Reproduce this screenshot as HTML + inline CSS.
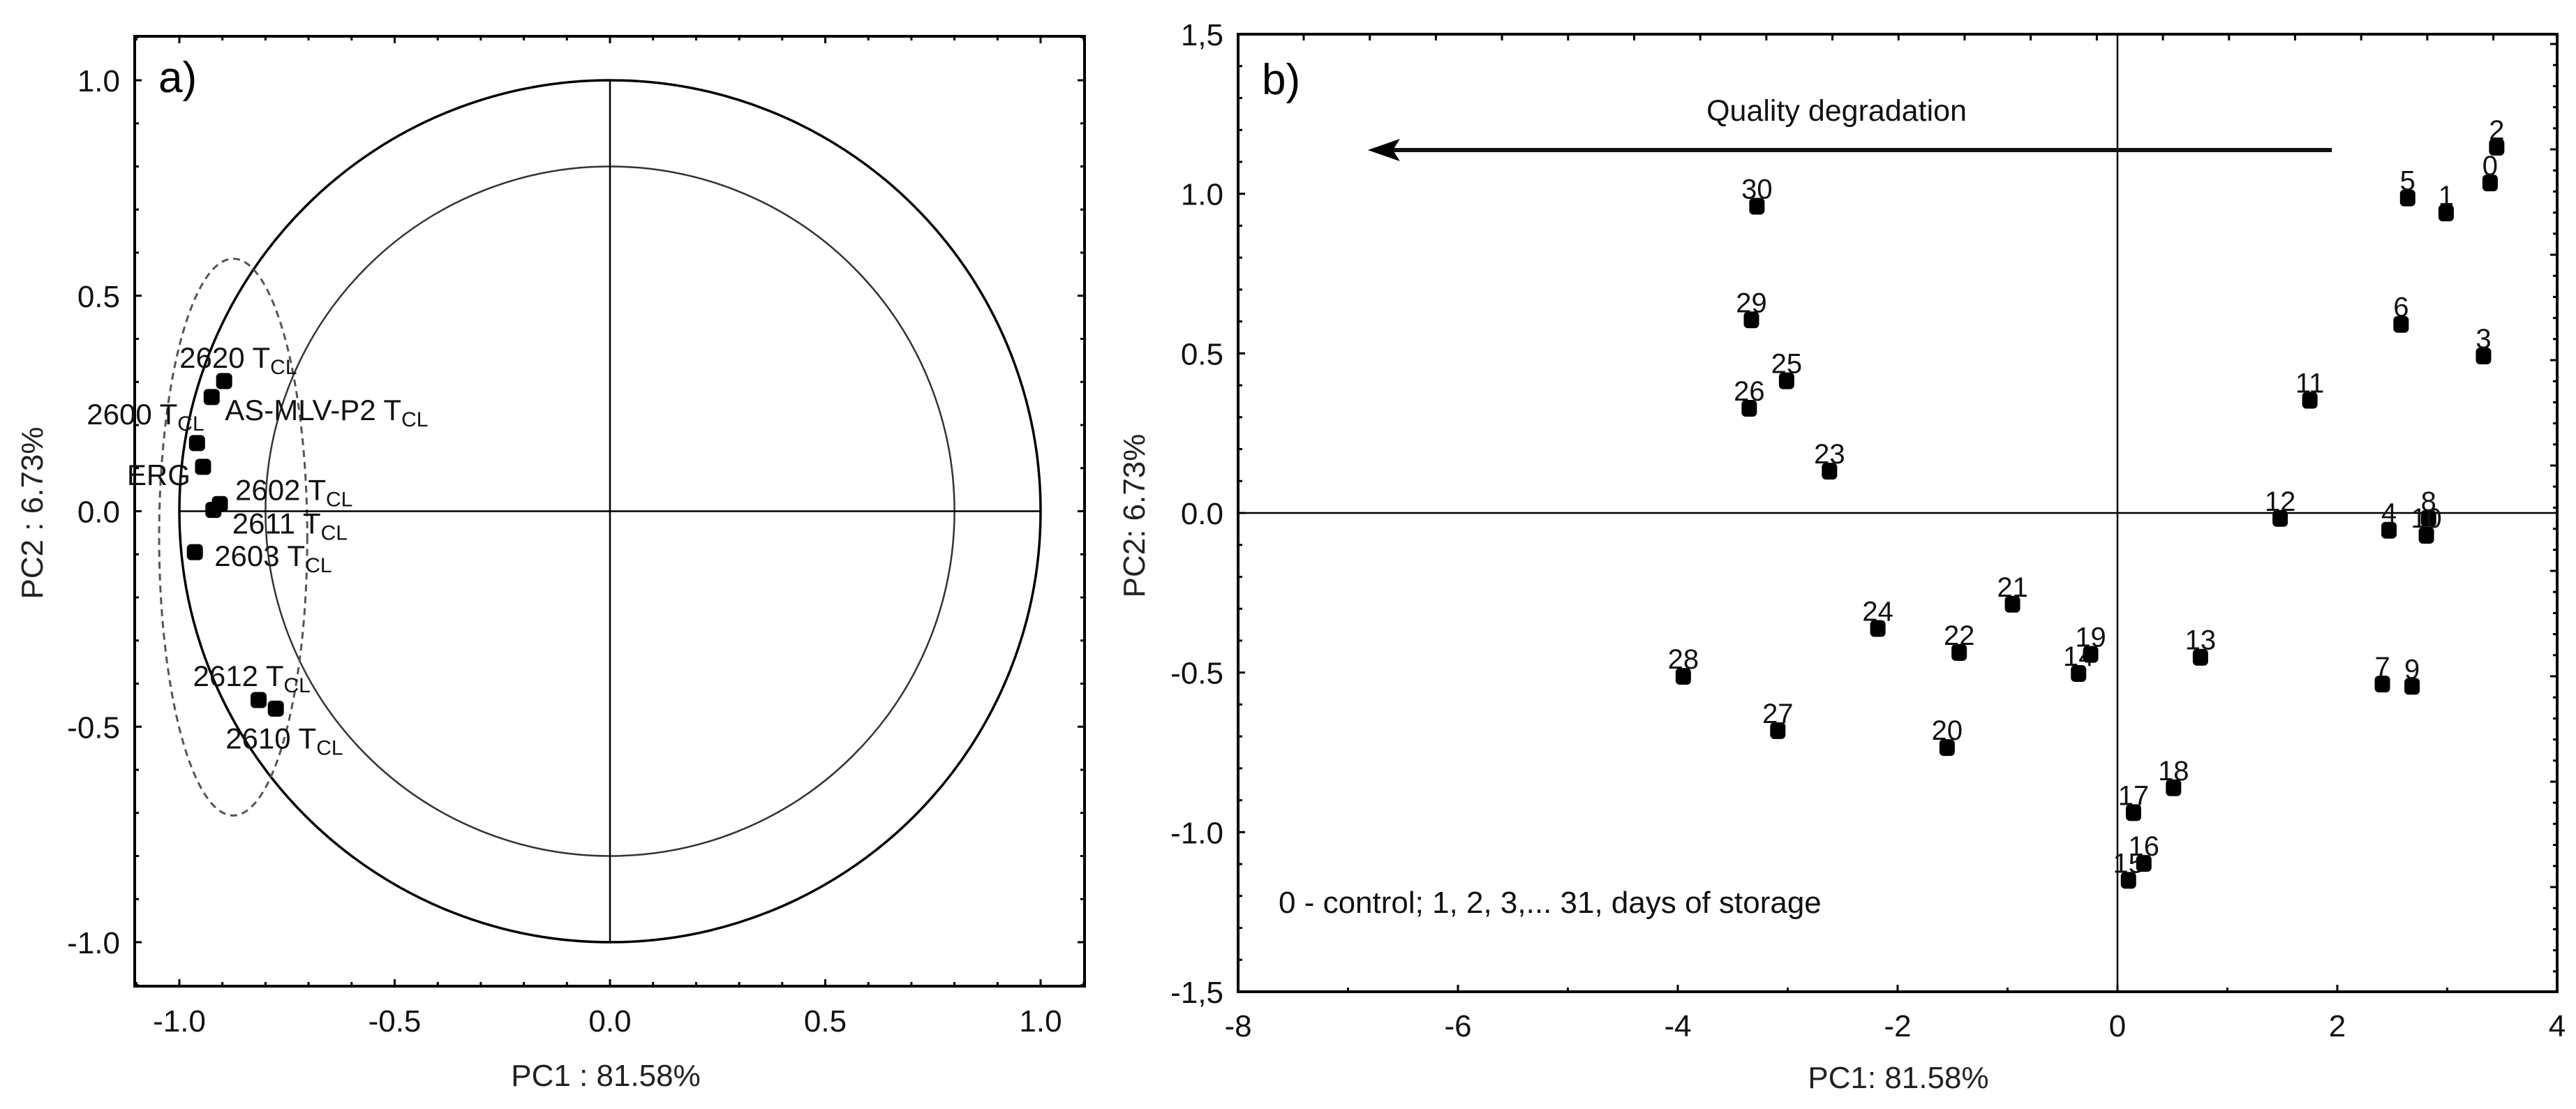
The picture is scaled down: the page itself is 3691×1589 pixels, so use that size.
<!DOCTYPE html>
<html><head><meta charset="utf-8">
<style>
html,body{margin:0;padding:0;background:#fff;}
svg{display:block;font-family:"Liberation Sans",Arial,sans-serif;}
</style></head>
<body>
<svg id="fig" width="3691" height="1589" viewBox="0 0 3691 1589" xmlns="http://www.w3.org/2000/svg">
<rect width="3691" height="1589" fill="#fff"/>
<g id="pa"></g>
<g id="pb"></g>
</svg>
<script>
// ---------- Panel a data ----------
const varNames = ["2620", "AS-MLV-P2", "2600", "ERG", "2602", "2611", "2603", "2612", "2610"];
const varSub = ["CL", "CL", "CL", "", "CL", "CL", "CL", "CL", "CL"];
const varPC1 = [-0.896, -0.925, -0.959, -0.945, -0.906, -0.921, -0.964, -0.816, -0.776];
const varPC2 = [0.302, 0.265, 0.158, 0.103, 0.0165, 0.003, -0.095, -0.438, -0.458];
const aTicks = [-1.0, -0.5, 0.0, 0.5, 1.0];
const aTickLabels = ["-1.0", "-0.5", "0.0", "0.5", "1.0"];
// ---------- Panel b data ----------
const dayLabels = ["0","1","2","3","4","5","6","7","8","9","10","11","12","13","14","15","16","17","18","19","20","21","22","23","24","25","26","27","28","29","30"];
const dayPC1 = [3.39,2.99,3.45,3.33,2.47,2.64,2.58,2.41,2.83,2.68,2.81,1.75,1.48,0.755,-0.354,0.10,0.24,0.146,0.51,-0.244,-1.55,-0.955,-1.44,-2.62,-2.18,-3.01,-3.35,-3.09,-3.95,-3.33,-3.28];
const dayPC2 = [1.034,0.94,1.146,0.492,-0.054,0.987,0.591,-0.536,-0.017,-0.543,-0.07,0.353,-0.017,-0.452,-0.503,-1.151,-1.098,-0.939,-0.861,-0.443,-0.735,-0.286,-0.437,0.131,-0.362,0.414,0.328,-0.682,-0.512,0.605,0.961];
const bXTicks = [-8,-6,-4,-2,0,2,4];
const bXTickLabels = ["-8","-6","-4","-2","0","2","4"];
const bYTicks = [1.5,1.0,0.5,0.0,-0.5,-1.0,-1.5];
const bYTickLabels = ["1,5","1.0","0.5","0.0","-0.5","-1.0","-1,5"];

const NS = "http://www.w3.org/2000/svg";
function mk(parent, tag, attrs, text){
  const e = document.createElementNS(NS, tag);
  for (const k in attrs) e.setAttribute(k, attrs[k]);
  if (text !== undefined) e.textContent = text;
  parent.appendChild(e);
  return e;
}

// ================= Panel A =================
const pa = document.getElementById('pa');
const aX = v => 874 + v * 617;
const aY = v => 732.5 - v * 617.5;
const aL = 193, aR = 1554, aT = 52, aB = 1413;

// circles
let c1 = mk(pa, 'ellipse', {cx: aX(0), cy: aY(0), rx: 617, ry: 617.5, fill: 'none', stroke: '#000', 'stroke-width': 3.5});


let c2 = mk(pa, 'ellipse', {cx: aX(0), cy: aY(0), rx: 617 * 0.8, ry: 617.5 * 0.8, fill: 'none', stroke: '#333', 'stroke-width': 2.5});


let el = mk(pa, 'ellipse', {cx: aX(-0.875), cy: aY(-0.06), rx: 0.172 * 617, ry: 0.646 * 617.5, fill: 'none', stroke: '#555', 'stroke-width': 3, 'stroke-dasharray': '10 7'});


let hl = mk(pa, 'line', {x1: aX(-1), y1: aY(0), x2: aX(1), y2: aY(0), stroke: '#000', 'stroke-width': 2.5});


let vl = mk(pa, 'line', {x1: aX(0), y1: aY(1), x2: aX(0), y2: aY(-1), stroke: '#000', 'stroke-width': 2.5});



// ticks
for (let i = -11; i <= 11; i++) {
  const v = i / 10, major = (i % 5 === 0), len = major ? 10 : 6;
  const x = aX(v), y = aY(v);
  mk(pa, 'line', {x1: x, y1: aB, x2: x, y2: aB - len, stroke: '#000', 'stroke-width': 3});
  mk(pa, 'line', {x1: x, y1: aT, x2: x, y2: aT + len, stroke: '#000', 'stroke-width': 3});
  mk(pa, 'line', {x1: aL, y1: y, x2: aL + len, y2: y, stroke: '#000', 'stroke-width': 3});
  mk(pa, 'line', {x1: aR, y1: y, x2: aR - len, y2: y, stroke: '#000', 'stroke-width': 3});
}
let fa = mk(pa, 'rect', {x: aL, y: aT, width: aR - aL, height: aB - aT, fill: 'none', stroke: '#000', 'stroke-width': 4});



aTicks.forEach((v, i) => {
  let t = mk(pa, 'text', {x: aX(v), y: 1478, 'text-anchor': 'middle', 'font-size': 44, fill: '#111'}, aTickLabels[i]);
  
  
  let u = mk(pa, 'text', {x: 172, y: aY(v) + 16, 'text-anchor': 'end', 'font-size': 44, fill: '#111'}, aTickLabels[i]);
  
  
});
let xta = mk(pa, 'text', {x: 868, y: 1556, 'text-anchor': 'middle', 'font-size': 44, fill: '#222'}, 'PC1 : 81.58%');


let yta = mk(pa, 'text', {x: 0, y: 0, 'text-anchor': 'middle', 'font-size': 44, fill: '#222', transform: 'translate(61,735) rotate(-90)'}, 'PC2 :  6.73%');


let pla = mk(pa, 'text', {x: 227, y: 132, 'font-size': 62, fill: '#000'}, 'a)');



// label offsets (px) relative to point
const aLabDX = [-64, 19, -158, -109, 22, 27, 28, -94, -72];
const aLabDY = [-19, 33, -27, 26, -6, 34, 20, -20, 57];
varNames.forEach((n, i) => {
  const x = aX(varPC1[i]), y = aY(varPC2[i]);
  let m = mk(pa, 'rect', {x: x - 11.5, y: y - 11.5, width: 23, height: 23, rx: 6, fill: '#000'});
  
  
  let t = mk(pa, 'text', {x: x + aLabDX[i], y: y + aLabDY[i], 'font-size': 42, fill: '#111'});
  
  
  mk(t, 'tspan', {}, n + (varSub[i] ? ' T' : ''));
  if (varSub[i]) mk(t, 'tspan', {'font-size': 30, dy: 9}, varSub[i]);
});

// ================= Panel B =================
const pb = document.getElementById('pb');
const bX = v => 1774 + (v + 8) * 157.5;
const bY = v => 49 + (1.5 - v) * 457.33;
const bL = 1774, bR = 3664, bT = 49, bB = 1421;

let hz = mk(pb, 'line', {x1: bL, y1: bY(0), x2: bR, y2: bY(0), stroke: '#000', 'stroke-width': 2.5});


let vz = mk(pb, 'line', {x1: bX(0), y1: bT, x2: bX(0), y2: bB, stroke: '#000', 'stroke-width': 2.5});



for (let i = -8; i <= 4; i++) {
  const x = bX(i), len = (i % 2 === 0) ? 10 : 6;
  mk(pb, 'line', {x1: x, y1: bB, x2: x, y2: bB - len, stroke: '#000', 'stroke-width': 3});
}
for (let x = 1868; x < bR; x += 94.7) {
  mk(pb, 'line', {x1: x, y1: bT, x2: x, y2: bT + 9, stroke: '#000', 'stroke-width': 3});
}
for (let i = -15; i <= 15; i++) {
  const y = bY(i / 10), len = (i % 5 === 0) ? 10 : 6;
  mk(pb, 'line', {x1: bL, y1: y, x2: bL + len, y2: y, stroke: '#000', 'stroke-width': 3});
}
for (let k = 0; k * 30.2 < bB - bT; k++) {
  const y = 1271 - k * 30.2 + 30.2 * 5; if (y >= bB) continue;
  const len = (k % 5 === 0) ? 10 : 6;
  mk(pb, 'line', {x1: bR, y1: y, x2: bR - len, y2: y, stroke: '#000', 'stroke-width': 3});
}
let fb = mk(pb, 'rect', {x: bL, y: bT, width: bR - bL, height: bB - bT, fill: 'none', stroke: '#000', 'stroke-width': 4});



bXTicks.forEach((v, i) => {
  let t = mk(pb, 'text', {x: bX(v), y: 1485, 'text-anchor': 'middle', 'font-size': 44, fill: '#111'}, bXTickLabels[i]);
  
  
});
bYTicks.forEach((v, i) => {
  let t = mk(pb, 'text', {x: 1753, y: bY(v) + 16, 'text-anchor': 'end', 'font-size': 44, fill: '#111'}, bYTickLabels[i]);
  
  
});
let xtb = mk(pb, 'text', {x: 2720, y: 1559, 'text-anchor': 'middle', 'font-size': 44, fill: '#222'}, 'PC1: 81.58%');


let ytb = mk(pb, 'text', {x: 0, y: 0, 'text-anchor': 'middle', 'font-size': 44, fill: '#222', transform: 'translate(1640,739) rotate(-90)'}, 'PC2: 6.73%');


let plb = mk(pb, 'text', {x: 1808, y: 135, 'font-size': 62, fill: '#000'}, 'b)');



// arrow
let ar = mk(pb, 'line', {x1: bX(1.95), y1: bY(1.137), x2: bX(-6.82) + 30, y2: bY(1.137), stroke: '#111', 'stroke-width': 6});


const tx = bX(-6.82), ty = bY(1.137);
let ah = mk(pb, 'path', {d: `M${tx},${ty} L${tx + 46},${ty - 16} L${tx + 36},${ty} L${tx + 46},${ty + 16} Z`, fill: '#000'});


let qd = mk(pb, 'text', {x: 2818, y: 173, 'text-anchor': 'end', 'font-size': 43, fill: '#111'}, 'Quality degradation');


let note = mk(pb, 'text', {x: 1832, y: 1308, 'font-size': 44, fill: '#111'}, '0 - control; 1, 2, 3,... 31, days of storage');



dayLabels.forEach((n, i) => {
  const x = bX(dayPC1[i]), y = bY(dayPC2[i]);
  let m = mk(pb, 'rect', {x: x - 11, y: y - 12, width: 22, height: 24, rx: 6, fill: '#000'});
  
  
  let t = mk(pb, 'text', {x: x, y: y - 11, 'text-anchor': 'middle', 'font-size': 40, fill: '#111'}, n);
  
  
});
</script>
</body></html>
